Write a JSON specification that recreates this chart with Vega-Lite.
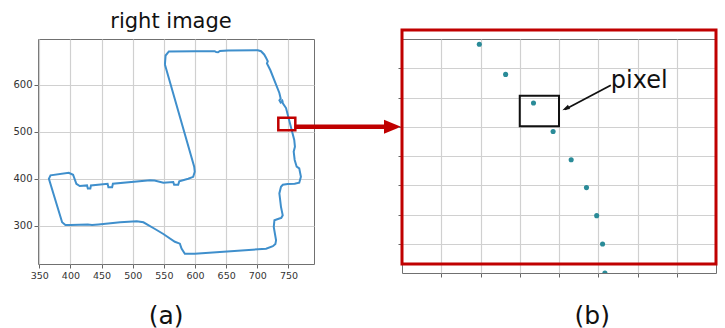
{
  "$schema": "https://vega.github.io/schema/vega-lite/v6.json",
  "background": "white",
  "padding": {"left": 12, "top": 10, "right": 4, "bottom": 0},
  "bounds": "flush",
  "spacing": 88,
  "config": {
    "font": "DejaVu Sans",
    "view": {"stroke": "#707070", "strokeWidth": 1},
    "axis": {
      "grid": true,
      "gridColor": "#d0d0d0",
      "gridWidth": 1.2,
      "domain": false,
      "tickColor": "#666666",
      "tickSize": 4,
      "tickWidth": 1,
      "labelFont": "DejaVu Sans",
      "labelFontSize": 10,
      "labelColor": "#333333",
      "labelPadding": 2,
      "labelOverlap": false,
      "labelBound": false,
      "titleFont": "DejaVu Sans",
      "titleFontWeight": "normal",
      "titleColor": "#111111"
    }
  },
  "datasets": {
    "path": [
      {"i": 1, "x": 551.7, "y": 643.5},
      {"i": 2, "x": 552.8, "y": 662.8},
      {"i": 3, "x": 558.1, "y": 671.4},
      {"i": 4, "x": 600, "y": 672},
      {"i": 5, "x": 631.6, "y": 672},
      {"i": 6, "x": 634, "y": 670},
      {"i": 7, "x": 637, "y": 669.8},
      {"i": 8, "x": 640, "y": 672.5},
      {"i": 9, "x": 653, "y": 673.5},
      {"i": 10, "x": 700.9, "y": 674},
      {"i": 11, "x": 706, "y": 672},
      {"i": 12, "x": 711, "y": 665},
      {"i": 13, "x": 714, "y": 657.8},
      {"i": 14, "x": 716.8, "y": 650.6},
      {"i": 15, "x": 715.5, "y": 646},
      {"i": 16, "x": 717.8, "y": 639.9},
      {"i": 17, "x": 721, "y": 631.3},
      {"i": 18, "x": 735.4, "y": 582.9},
      {"i": 19, "x": 737.5, "y": 571},
      {"i": 20, "x": 735.5, "y": 567},
      {"i": 21, "x": 737.5, "y": 562.5},
      {"i": 22, "x": 740.5, "y": 565},
      {"i": 23, "x": 739.5, "y": 569},
      {"i": 24, "x": 741, "y": 561},
      {"i": 25, "x": 746.1, "y": 550.7},
      {"i": 26, "x": 753, "y": 515},
      {"i": 27, "x": 759.3, "y": 482.8},
      {"i": 28, "x": 760.4, "y": 468.4},
      {"i": 29, "x": 758.4, "y": 457.7},
      {"i": 30, "x": 760, "y": 440},
      {"i": 31, "x": 763.2, "y": 425.6},
      {"i": 32, "x": 767.3, "y": 422},
      {"i": 33, "x": 770, "y": 404},
      {"i": 34, "x": 767.3, "y": 391.3},
      {"i": 35, "x": 760, "y": 389},
      {"i": 36, "x": 748.8, "y": 388.5},
      {"i": 37, "x": 741, "y": 387},
      {"i": 38, "x": 738, "y": 382.7},
      {"i": 39, "x": 735.4, "y": 368.6},
      {"i": 40, "x": 738, "y": 339.9},
      {"i": 41, "x": 740.8, "y": 322},
      {"i": 42, "x": 738.5, "y": 316.5},
      {"i": 43, "x": 735.4, "y": 315},
      {"i": 44, "x": 727.5, "y": 311.3},
      {"i": 45, "x": 726.4, "y": 297},
      {"i": 46, "x": 730.1, "y": 268.5},
      {"i": 47, "x": 729, "y": 260.5},
      {"i": 48, "x": 725, "y": 256},
      {"i": 49, "x": 714.1, "y": 250.7},
      {"i": 50, "x": 599.6, "y": 240},
      {"i": 51, "x": 583.7, "y": 240},
      {"i": 52, "x": 578.4, "y": 250.7},
      {"i": 53, "x": 575.7, "y": 261.4},
      {"i": 54, "x": 567.7, "y": 265.5},
      {"i": 55, "x": 549.2, "y": 282},
      {"i": 56, "x": 535.8, "y": 292.7},
      {"i": 57, "x": 517.2, "y": 307},
      {"i": 58, "x": 506.5, "y": 309.2},
      {"i": 59, "x": 479.9, "y": 307},
      {"i": 60, "x": 445, "y": 302.5},
      {"i": 61, "x": 434.7, "y": 301.3},
      {"i": 62, "x": 428, "y": 302},
      {"i": 63, "x": 400, "y": 301},
      {"i": 64, "x": 392, "y": 301.3},
      {"i": 65, "x": 386.7, "y": 307},
      {"i": 66, "x": 365.5, "y": 399.9},
      {"i": 67, "x": 368.1, "y": 407.1},
      {"i": 68, "x": 397.4, "y": 412.7},
      {"i": 69, "x": 404.3, "y": 408.4},
      {"i": 70, "x": 409.6, "y": 389.1},
      {"i": 71, "x": 415, "y": 384.2},
      {"i": 72, "x": 426.7, "y": 385.7},
      {"i": 73, "x": 428, "y": 379},
      {"i": 74, "x": 432, "y": 379},
      {"i": 75, "x": 433, "y": 385.7},
      {"i": 76, "x": 459.7, "y": 389.1},
      {"i": 77, "x": 461, "y": 382},
      {"i": 78, "x": 467, "y": 382},
      {"i": 79, "x": 468.2, "y": 389.1},
      {"i": 80, "x": 527.8, "y": 396.4},
      {"i": 81, "x": 535, "y": 396},
      {"i": 82, "x": 549.2, "y": 391.3},
      {"i": 83, "x": 565.1, "y": 392.8},
      {"i": 84, "x": 566.5, "y": 387},
      {"i": 85, "x": 573, "y": 387},
      {"i": 86, "x": 574.7, "y": 394.3},
      {"i": 87, "x": 589.1, "y": 399.9},
      {"i": 88, "x": 597.1, "y": 404},
      {"i": 89, "x": 599.6, "y": 414.8},
      {"i": 90, "x": 598.7, "y": 425.6},
      {"i": 91, "x": 551.7, "y": 643.5}
    ],
    "zoomBox": [{"x1": 733.7, "x2": 761, "y1": 503.3, "y2": 530.2}],
    "redArrow": [{"x1": 761, "x2": 908, "y": 511, "hx": 917}],
    "pixels": [
      {"x": 1.97, "y": 7.82},
      {"x": 2.64, "y": 6.79},
      {"x": 3.35, "y": 5.81},
      {"x": 3.85, "y": 4.84},
      {"x": 4.31, "y": 3.87},
      {"x": 4.70, "y": 2.92},
      {"x": 4.96, "y": 1.96},
      {"x": 5.11, "y": 0.99},
      {"x": 5.17, "y": 0.0}
    ],
    "frame": [{"x1": 0, "x2": 8, "y1": 0.31, "y2": 8.31}],
    "cell": [{"x1": 3.0, "x2": 4.0, "y1": 5.02, "y2": 6.06}],
    "label": [{"x": 5.32, "y": 6.34, "text": "pixel", "ax": 5.32, "ay": 6.42, "bx": 4.15, "by": 5.59, "hx": 4.17, "hy": 5.62}]
  },
  "hconcat": [
    {
      "width": 276,
      "height": 225,
      "title": {
        "text": "right image",
        "fontSize": 21,
        "fontWeight": "normal",
        "color": "#111111",
        "font": "DejaVu Sans",
        "baseline": "alphabetic",
        "anchor": "middle",
        "offset": -10,
        "dx": -5
      },
      "encoding": {
        "x": {
          "type": "quantitative",
          "scale": {"domain": [348, 791], "nice": false, "zero": false},
          "axis": {
            "values": [350, 400, 450, 500, 550, 600, 650, 700, 750],
            "labelOverlap": false,
            "labelFontSize": 9.5,
            "title": "(a)",
            "titleFontSize": 25,
            "titleBaseline": "alphabetic",
            "titleAlign": "center",
            "titleX": 127.7,
            "titleY": 59
          }
        },
        "y": {
          "type": "quantitative",
          "scale": {"domain": [218, 698], "nice": false, "zero": false},
          "axis": {"values": [300, 400, 500, 600], "labelOverlap": false, "title": null}
        }
      },
      "layer": [
        {
          "data": {"name": "path"},
          "mark": {"type": "line", "color": "#3f8fcc", "strokeWidth": 2},
          "encoding": {
            "x": {"field": "x"},
            "y": {"field": "y"},
            "order": {"field": "i", "type": "quantitative"}
          }
        },
        {
          "data": {"name": "zoomBox"},
          "mark": {"type": "rect", "fill": "transparent", "stroke": "#c00000", "strokeWidth": 2.5},
          "encoding": {
            "x": {"field": "x1"},
            "x2": {"field": "x2"},
            "y": {"field": "y1"},
            "y2": {"field": "y2"}
          }
        },
        {
          "data": {"name": "redArrow"},
          "mark": {"type": "rule", "color": "#c00000", "strokeWidth": 4.5, "clip": false},
          "encoding": {
            "x": {"field": "x1"},
            "x2": {"field": "x2"},
            "y": {"field": "y"}
          }
        },
        {
          "data": {"name": "redArrow"},
          "mark": {"type": "point", "shape": "M-1,-0.82L1,0L-1,0.82Z", "filled": true, "color": "#c00000", "opacity": 1, "size": 289, "clip": false},
          "encoding": {
            "x": {"field": "hx"},
            "y": {"field": "y"}
          }
        }
      ]
    },
    {
      "width": 314,
      "height": 234,
      "encoding": {
        "x": {
          "type": "quantitative",
          "scale": {"domain": [0, 8], "nice": false, "zero": false},
          "axis": {
            "values": [1, 2, 3, 4, 5, 6, 7],
            "labels": false,
            "title": "(b)",
            "titleFontSize": 25,
            "titleBaseline": "alphabetic",
            "titleAlign": "center",
            "titleX": 189.8,
            "titleY": 50
          }
        },
        "y": {
          "type": "quantitative",
          "scale": {"domain": [0, 8], "nice": false, "zero": false},
          "axis": {"values": [1, 2, 3, 4, 5, 6, 7], "labels": false, "title": null}
        }
      },
      "layer": [
        {
          "data": {"name": "pixels"},
          "mark": {"type": "circle", "color": "#2a8b98", "opacity": 1, "size": 26, "clip": true},
          "encoding": {
            "x": {"field": "x"},
            "y": {"field": "y"}
          }
        },
        {
          "data": {"name": "cell"},
          "mark": {"type": "rect", "fill": "transparent", "stroke": "#111111", "strokeWidth": 2},
          "encoding": {
            "x": {"field": "x1"},
            "x2": {"field": "x2"},
            "y": {"field": "y1"},
            "y2": {"field": "y2"}
          }
        },
        {
          "data": {"name": "label"},
          "mark": {"type": "rule", "color": "#111111", "strokeWidth": 1.8},
          "encoding": {
            "x": {"field": "ax"},
            "x2": {"field": "bx"},
            "y": {"field": "ay"},
            "y2": {"field": "by"}
          }
        },
        {
          "data": {"name": "label"},
          "mark": {"type": "point", "shape": "M0,-1L0.62,1L-0.62,1Z", "filled": true, "color": "#111111", "opacity": 1, "size": 56, "angle": 242.6},
          "encoding": {
            "x": {"field": "hx"},
            "y": {"field": "hy"}
          }
        },
        {
          "data": {"name": "label"},
          "mark": {"type": "text", "align": "left", "baseline": "alphabetic", "fontSize": 24, "font": "DejaVu Sans", "color": "#111111"},
          "encoding": {
            "x": {"field": "x"},
            "y": {"field": "y"},
            "text": {"field": "text"}
          }
        },
        {
          "data": {"name": "frame"},
          "mark": {"type": "rect", "fill": "transparent", "stroke": "#c00000", "strokeWidth": 3, "clip": false},
          "encoding": {
            "x": {"field": "x1"},
            "x2": {"field": "x2"},
            "y": {"field": "y1"},
            "y2": {"field": "y2"}
          }
        }
      ]
    }
  ]
}
